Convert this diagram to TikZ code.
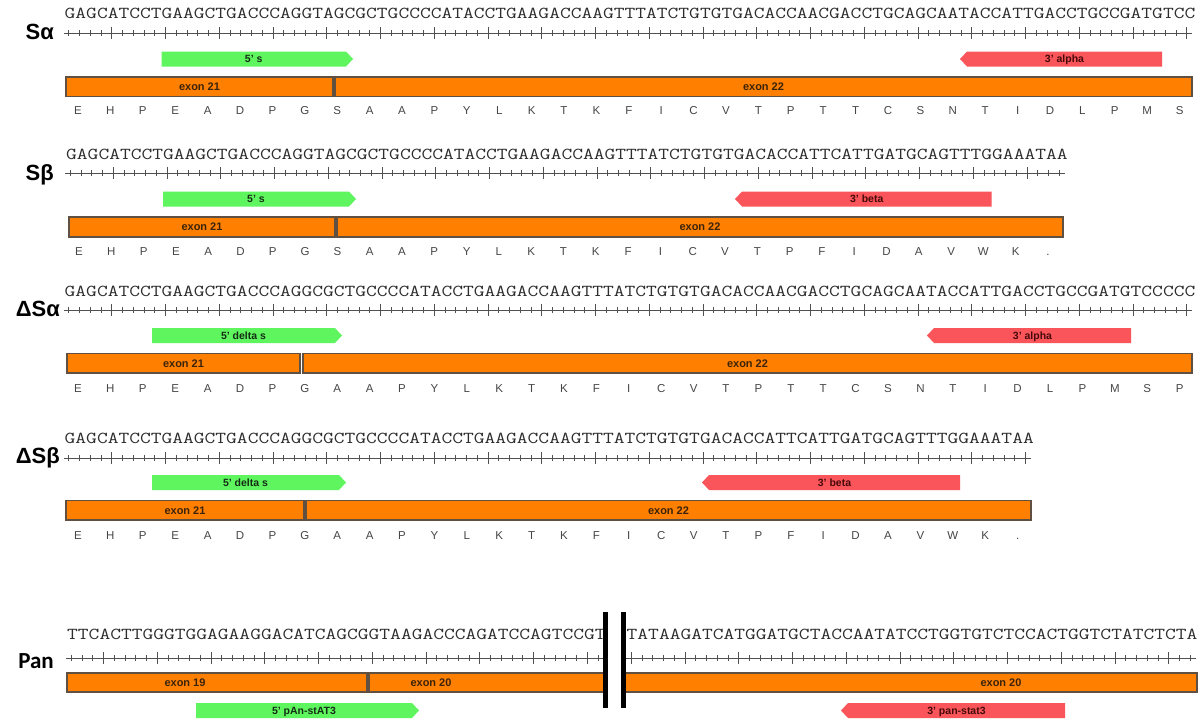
\documentclass[tikz,border=0pt]{standalone}
\usepackage{fontspec}
\usepackage{graphicx}
\setmainfont{Liberation Sans}
\newfontfamily\panfont{Carlito}
\definecolor{exonfill}{RGB}{255,128,0}
\definecolor{exonline}{RGB}{95,80,65}
\definecolor{exontxt}{RGB}{60,35,10}
\definecolor{fwdc}{RGB}{95,245,95}
\definecolor{revc}{RGB}{250,85,90}
\definecolor{fwdtxt}{RGB}{20,45,20}
\definecolor{revtxt}{RGB}{70,10,10}
\definecolor{seqc}{RGB}{45,45,45}
\definecolor{aac}{RGB}{70,70,70}
\definecolor{rulc}{RGB}{80,80,80}
\newcommand\sq[1]{\scalebox{1.252}[1]{#1}}
\tikzset{
 seq/.style={anchor=base west, inner sep=0pt, font=\ttfamily\fontsize{16.7}{18}\selectfont, text=seqc},
 aa/.style={anchor=base, inner sep=0pt, font=\fontsize{11.5}{12}\selectfont, text=aac},
 rowlbl/.style={anchor=base east, inner sep=0pt, font=\bfseries\fontsize{22}{24}\selectfont},
 panlbl/.style={anchor=base east, inner sep=0pt, font=\panfont\bfseries\fontsize{23}{24}\selectfont},
 exonbox/.style={fill=exonfill, draw=exonline, line width=1.2pt},
 elbl/.style={anchor=base, inner sep=0pt, font=\bfseries\fontsize{11}{12}\selectfont, text=exontxt},
 plbl/.style={anchor=base, inner sep=0pt, font=\bfseries\fontsize{10.5}{12}\selectfont},
 rul/.style={draw=rulc, line width=0.8pt},
}
\newcommand\rulerrow[5]{%
  \coordinate (#5s) at (#1,#3);
  \coordinate (#5e) at ({#1+#2*10.75},#3);
  \draw[rul] (#5s) -- (#5e);
  \pgfmathtruncatemacro\nlast{#2-1}
  \foreach \k in {0,...,\nlast}{
    \pgfmathsetmacro\tx{#1+(\k+0.5)*10.75}
    \pgfmathtruncatemacro\mm{mod(\k,5)}
    \ifnum\mm=#4\relax
      \draw[rul] (\tx,#3-6) -- (\tx,#3+6);
    \else
      \draw[rul] (\tx,#3-3) -- (\tx,#3+3);
    \fi
  }
}
\newcommand\fwdprimer[6]{%
  \fill[fwdc] (#2,#4) -- ({#3-7},#4) -- (#3,{(#4+#5)/2}) -- ({#3-7},#5) -- (#2,#5) -- cycle;
  \node[plbl, text=fwdtxt] (#1) at ({(#2+#3-7)/2},{(#4+#5)/2+3.8}) {#6};
}
\newcommand\revprimer[6]{%
  \fill[revc] (#3,#4) -- ({#2+7},#4) -- (#2,{(#4+#5)/2}) -- ({#2+7},#5) -- (#3,#5) -- cycle;
  \node[plbl, text=revtxt] (#1) at ({(#2+7+#3)/2},{(#4+#5)/2+3.8}) {#6};
}
\newcommand\exonbar[7]{%
  \draw[exonbox] (#2,#4) rectangle (#3,#5);
  \node[elbl] (#1) at (#6,{(#4+#5)/2+3.9}) {#7};
}
\newcommand\aarow[5]{%
  \foreach \a [count=\i from 0] in {#5} \node[aa] (#1\i) at ({#2+\i*#3},#4) {\a};
}
\begin{document}
\begin{tikzpicture}[x=1pt,y=-1pt]
\fill[white] (0,0) rectangle (1200,726);
\useasboundingbox (0,0) rectangle (1200,726);

% ---------- S alpha ----------
\node[rowlbl] (lSa) at (54,39) {Sα};
\node[seq] (qSa) at (64.5,18.5) {\sq{GAGCATCCTGAAGCTGACCCAGGTAGCGCTGCCCCATACCTGAAGACCAAGTTTATCTGTGTGACACCAACGACCTGCAGCAATACCATTGACCTGCCGATGTCC}};
\rulerrow{63.5}{105}{33}{4}{rSa}
\fwdprimer{fSa}{161.5}{353}{51.5}{66.5}{5' s}
\revprimer{pSa}{960}{1162}{51.5}{66.5}{3' alpha}
\exonbar{eSa1}{66}{333}{77}{96.5}{199.5}{exon 21}
\exonbar{eSa2}{335}{1192}{77}{96.5}{763.5}{exon 22}
\aarow{aSa}{78}{32.4}{114.5}{E,H,P,E,A,D,P,G,S,A,A,P,Y,L,K,T,K,F,I,C,V,T,P,T,T,C,S,N,T,I,D,L,P,M,S}

% ---------- S beta ----------
\node[rowlbl] (lSb) at (54,180) {Sβ};
\node[seq] (qSb) at (66,159) {\sq{GAGCATCCTGAAGCTGACCCAGGTAGCGCTGCCCCATACCTGAAGACCAAGTTTATCTGTGTGACACCATTCATTGATGCAGTTTGGAAATAA}};
\rulerrow{65}{93}{173}{4}{rSb}
\fwdprimer{fSb}{163}{356}{191.5}{206.5}{5' s}
\revprimer{pSb}{735}{991.5}{191.5}{206.5}{3' beta}
\exonbar{eSb1}{69}{335}{217}{237}{202}{exon 21}
\exonbar{eSb2}{337}{1063}{217}{237}{700}{exon 22}
\aarow{aSb}{79}{32.3}{255}{E,H,P,E,A,D,P,G,S,A,A,P,Y,L,K,T,K,F,I,C,V,T,P,F,I,D,A,V,W,K,.}

% ---------- Delta S alpha ----------
\node[rowlbl] (lDa) at (60,316) {ΔSα};
\node[seq] (qDa) at (64.5,296.5) {\sq{GAGCATCCTGAAGCTGACCCAGGCGCTGCCCCATACCTGAAGACCAAGTTTATCTGTGTGACACCAACGACCTGCAGCAATACCATTGACCTGCCGATGTCCCCC}};
\rulerrow{63.5}{105}{310}{4}{rDa}
\fwdprimer{fDa}{152}{342}{328}{343}{5' delta s}
\revprimer{pDa}{927}{1131}{328}{343}{3' alpha}
\exonbar{eDa1}{67}{300}{353.5}{373}{183.5}{exon 21}
\exonbar{eDa2}{303}{1192}{353.5}{373}{747.5}{exon 22}
\aarow{aDa}{78}{32.4}{392}{E,H,P,E,A,D,P,G,A,A,P,Y,L,K,T,K,F,I,C,V,T,P,T,T,C,S,N,T,I,D,L,P,M,S,P}

% ---------- Delta S beta ----------
\node[rowlbl] (lDb) at (60,463) {ΔSβ};
\node[seq] (qDb) at (64.5,443.5) {\sq{GAGCATCCTGAAGCTGACCCAGGCGCTGCCCCATACCTGAAGACCAAGTTTATCTGTGTGACACCATTCATTGATGCAGTTTGGAAATAA}};
\rulerrow{63.5}{90}{458}{4}{rDb}
\fwdprimer{fDb}{152}{346}{475}{490}{5' delta s}
\revprimer{pDb}{702}{960}{475}{490}{3' beta}
\exonbar{eDb1}{66}{304}{500.5}{520}{185}{exon 21}
\exonbar{eDb2}{306}{1031}{500.5}{520}{668.5}{exon 22}
\aarow{aDb}{78}{32.4}{539}{E,H,P,E,A,D,P,G,A,A,P,Y,L,K,T,K,F,I,C,V,T,P,F,I,D,A,V,W,K,.}

% ---------- Pan ----------
\node[panlbl] (lPan) at (54,668) {Pan};
\node[seq] (qPa) at (67,639) {\sq{TTCACTTGGGTGGAGAAGGACATCAGCGGTAAGACCCAGATCCAGTCCGT}};
\node[seq] (qPb) at (626.5,639) {\sq{TATAAGATCATGGATGCTACCAATATCCTGGTGTCTCCACTGGTCTATCTCTA}};
\rulerrow{66}{50}{658}{3}{rPa}
\rulerrow{626}{53}{658}{0}{rPb}
\draw[exonbox] (67,673) rectangle (367,692);
\draw[exonbox] (369,673) rectangle (1197,692);
\node[elbl] (ePa1) at (185,686.4) {exon 19};
\node[elbl] (ePa2) at (431,686.4) {exon 20};
\node[elbl] (ePa3) at (1001,686.4) {exon 20};
\fwdprimer{fPa}{196}{419}{703}{718}{5' pAn-stAT3}
\revprimer{pPa}{841}{1065}{703}{718}{3' pan-stat3}
% break marks
\fill[white] (608,600) rectangle (620.5,712);
\fill[black] (602.5,612) rectangle (608,708);
\fill[black] (620.5,612) rectangle (626,708);
\end{tikzpicture}
\end{document}
